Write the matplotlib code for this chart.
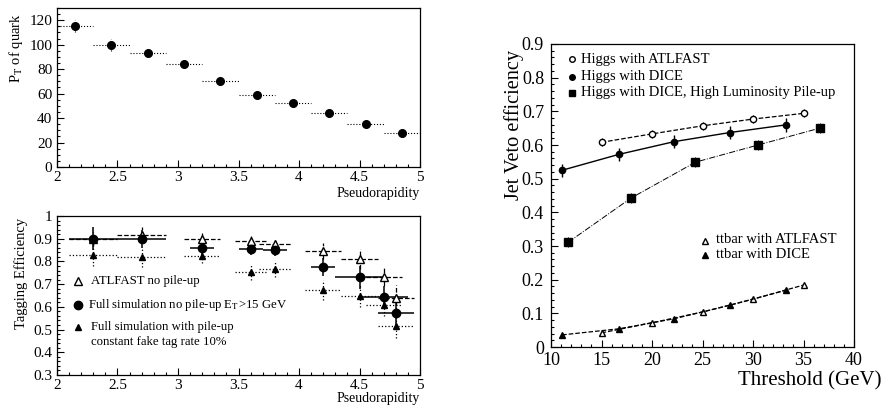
import numpy as np
import matplotlib
matplotlib.use("Agg")
import matplotlib.pyplot as plt
from matplotlib.ticker import MultipleLocator

plt.rcParams['font.family'] = ['Liberation Serif', 'DejaVu Serif']
plt.rcParams['mathtext.fontset'] = 'stix'

# --- top left: pT of quark vs pseudorapidity
eta_bins = [2.15, 2.45, 2.75, 3.05, 3.35, 3.65, 3.95, 4.25, 4.55, 4.85]
pt_quark = [115, 100, 93, 84, 70, 59, 52, 44, 35, 28]
pt_err = [5, 5, 2, 2, 1.5, 1.5, 1.5, 1.5, 1.5, 1.5]

# --- bottom left: tagging efficiency
eta_tag = [2.3, 2.7, 3.2, 3.6, 3.8, 4.2, 4.5, 4.7, 4.8]
eta_xerr = [0.2, 0.2, 0.15, 0.13, 0.13, 0.15, 0.15, 0.15, 0.15]
eff_atlfast = [0.90, 0.916, 0.90, 0.892, 0.875, 0.846, 0.81, 0.733, 0.637]
eff_atlfast_err = [0.03, 0.035, 0.025, 0.02, 0.02, 0.035, 0.045, 0.04, 0.06]
full_xerr = [0.2, 0.2, 0.1, 0.1, 0.1, 0.1, 0.2, 0.2, 0.15]
eff_full = [0.90, 0.90, 0.86, 0.855, 0.85, 0.777, 0.73, 0.645, 0.571]
eff_full_err = [0.05, 0.04, 0.03, 0.025, 0.025, 0.04, 0.05, 0.045, 0.05]
eff_pileup = [0.83, 0.82, 0.825, 0.755, 0.765, 0.675, 0.648, 0.61, 0.515]
eff_pileup_err = [0.05, 0.045, 0.03, 0.035, 0.035, 0.045, 0.05, 0.05, 0.05]

# --- right: jet veto efficiency vs threshold
thr_atl = [15, 20, 25, 30, 35]
thr_dice = [11.1, 16.7, 22.2, 27.7, 33.3]
thr_pu = [11.7, 17.9, 24.3, 30.5, 36.6]
higgs_atl = [0.608, 0.633, 0.657, 0.677, 0.694]
higgs_dice = [0.525, 0.572, 0.610, 0.637, 0.660]
higgs_pu = [0.311, 0.442, 0.549, 0.600, 0.650]
ttbar_atl = [0.042, 0.072, 0.104, 0.142, 0.184]
ttbar_dice = [0.036, 0.054, 0.084, 0.124, 0.169]


def root_style(ax, xmaj, xmin, ymaj, ymin, fs):
    ax.xaxis.set_major_locator(MultipleLocator(xmaj))
    ax.xaxis.set_minor_locator(MultipleLocator(xmin))
    ax.yaxis.set_major_locator(MultipleLocator(ymaj))
    ax.yaxis.set_minor_locator(MultipleLocator(ymin))
    ax.tick_params(which='both', direction='in', top=False, right=False,
                   labelsize=fs, width=0.8)
    ax.tick_params(which='major', length=5)
    ax.tick_params(which='minor', length=2.5)
    for s in ax.spines.values():
        s.set_linewidth(0.9)


def fmt_num(v, pos):
    return ('%g' % v)


fig = plt.figure(figsize=(8.85, 4.07), dpi=100)

# top left
ax1 = fig.add_axes([0.0644, 0.5897, 0.4102, 0.3907])
eb = ax1.errorbar(eta_bins, pt_quark, xerr=0.15, yerr=pt_err, fmt='o', color='black',
                  ms=5.5, elinewidth=0.8, capsize=0)
eb[2][0].set_linestyle(':')
eb[2][1].set_linestyle(':')
ax1.set_xlim(2, 5)
ax1.set_ylim(0, 130)
root_style(ax1, 0.5, 0.1, 20, 5, 11)
ax1.tick_params(axis='x', pad=3)
ax1.xaxis.set_major_formatter(fmt_num)
ax1.set_ylabel(r'P$_{\rm T}$ of quark', fontsize=10.5, labelpad=3, loc='top')
ax1.yaxis.label.set_y(0.97)
ax1.set_xlabel('Pseudorapidity', fontsize=10, loc='right', labelpad=2)

# bottom left
ax2 = fig.add_axes([0.0644, 0.0786, 0.4102, 0.3907])
eb = ax2.errorbar(eta_tag, eff_atlfast, xerr=eta_xerr, yerr=eff_atlfast_err, fmt='^',
                  mfc='white', mec='black', color='black', ms=6, elinewidth=0.9, capsize=0)
eb[2][0].set_linestyle('--')
eb[2][1].set_linestyle('--')
eb = ax2.errorbar(eta_tag, eff_pileup, xerr=eta_xerr, yerr=eff_pileup_err, fmt='^',
                  color='black', ms=5, elinewidth=0.9, capsize=0)
eb[2][0].set_linestyle(':')
eb[2][1].set_linestyle(':')
ax2.errorbar(eta_tag, eff_full, xerr=full_xerr, yerr=eff_full_err, fmt='o',
             color='black', ms=6, elinewidth=1.1, capsize=0)
ax2.set_xlim(2, 5)
ax2.set_ylim(0.3, 1.0)
root_style(ax2, 0.5, 0.1, 0.1, 0.02, 11)
ax2.tick_params(axis='x', pad=3)
ax2.xaxis.set_major_formatter(fmt_num)
ax2.yaxis.set_major_formatter(fmt_num)
ax2.set_ylabel('Tagging Efficiency', fontsize=10.5, labelpad=4, loc='top')
ax2.yaxis.label.set_y(0.99)
ax2.set_xlabel('Pseudorapidity', fontsize=10, loc='right', labelpad=0)

# legend for bottom left
ax2.plot([2.17], [0.712], '^', mfc='white', mec='black', ms=6)
ax2.text(2.28, 0.712, 'ATLFAST no pile-up', fontsize=9.2, va='center')
ax2.plot([2.17], [0.61], 'o', color='black', ms=6)
ax2.text(2.26, 0.607, r'Full simulation no pile-up E$_{\rm T}$>15 GeV', fontsize=9.2, va='center')
ax2.plot([2.17], [0.51], '^', color='black', ms=5)
ax2.text(2.28, 0.51, 'Full simulation with pile-up', fontsize=9.2, va='center')
ax2.text(2.28, 0.445, 'constant fake tag rate 10%', fontsize=9.2, va='center')

# right
ax3 = fig.add_axes([0.6226, 0.1474, 0.3424, 0.7445])
ax3.errorbar(thr_atl, higgs_atl, yerr=0.012, fmt='o--', mfc='white', mec='black',
             color='black', ms=4.5, lw=0.9, elinewidth=0.8, capsize=0)
ax3.errorbar(thr_dice, higgs_dice, yerr=0.02, fmt='o-', color='black', ms=4.5,
             lw=1.0, elinewidth=1.0, capsize=0)
ax3.errorbar(thr_pu, higgs_pu, yerr=0.015, fmt='s-.', color='black', ms=5.5,
             lw=0.7, elinewidth=0.7, capsize=0)
ax3.errorbar(thr_atl, ttbar_atl, yerr=0.006, fmt='^--', mfc='white', mec='black',
             color='black', ms=5, lw=0.9, elinewidth=0.7, capsize=0)
ax3.errorbar(thr_dice, ttbar_dice, yerr=0.006, fmt='^--', color='black', ms=4.5,
             lw=0.9, elinewidth=0.7, capsize=0)
ax3.set_xlim(10, 40)
ax3.set_ylim(0, 0.9)
root_style(ax3, 5, 1, 0.1, 0.02, 13)
ax3.tick_params(axis='y', pad=5)
ax3.xaxis.set_major_formatter(fmt_num)
ax3.yaxis.set_major_formatter(fmt_num)
ax3.set_ylabel('Jet Veto efficiency', fontsize=14.6, labelpad=-1.5, loc='top')
ax3.yaxis.label.set_y(0.98)
ax3.set_xlabel('Threshold (GeV)', fontsize=15, loc='right', labelpad=2)
ax3.xaxis.label.set_position((1.09, 0))

# legend for right
ax3.plot([12.1], [0.854], 'o', mfc='white', mec='black', ms=4)
ax3.text(13.0, 0.854, 'Higgs with ATLFAST', fontsize=10.5, va='center')
ax3.plot([12.1], [0.803], 'o', color='black', ms=4)
ax3.text(13.0, 0.803, 'Higgs with DICE', fontsize=10.5, va='center')
ax3.plot([12.1], [0.755], 's', color='black', ms=5)
ax3.text(13.0, 0.755, 'Higgs with DICE, High Luminosity Pile-up', fontsize=10.5, va='center')
ax3.plot([25.2], [0.316], '^', mfc='white', mec='black', ms=4.5)
ax3.text(26.3, 0.318, 'ttbar with ATLFAST', fontsize=10.5, va='center')
ax3.plot([25.2], [0.272], '^', color='black', ms=4)
ax3.text(26.3, 0.274, 'ttbar with DICE', fontsize=10.5, va='center')

fig.savefig('out.png', dpi=100)
